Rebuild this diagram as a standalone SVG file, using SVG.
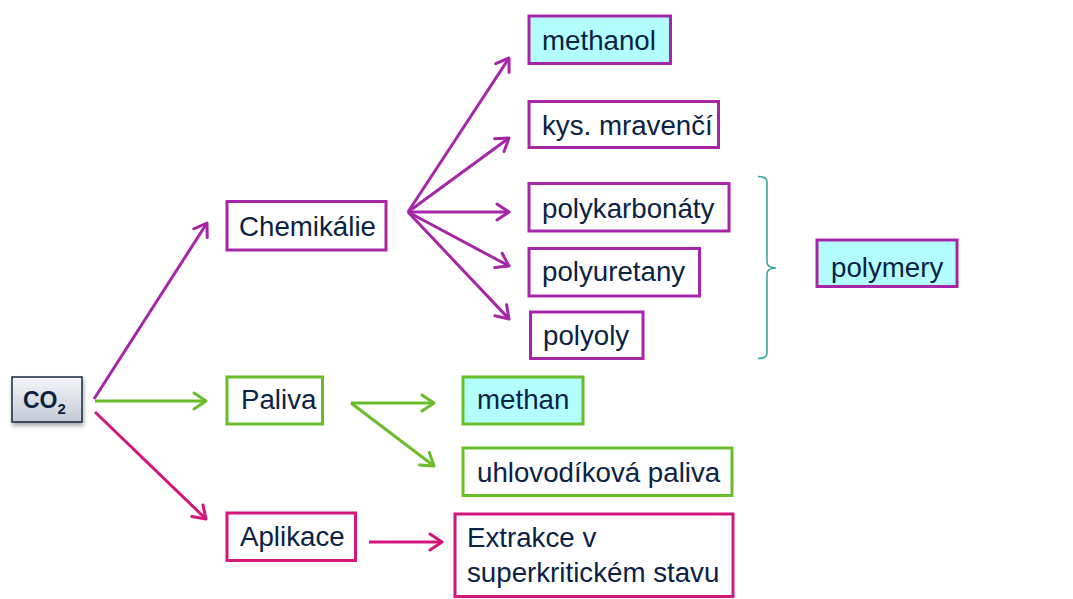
<svg xmlns="http://www.w3.org/2000/svg" width="1073" height="599" viewBox="0 0 1073 599">
<style>
text{font-family:"Liberation Sans",Arial,sans-serif;font-size:27.7px;fill:#0b2245}
.box{fill:#fff;stroke-width:3}
.cy{fill:#b3ffff}
.mg{stroke:#a626a8}
.gr{stroke:#6abd2a}
.pk{stroke:#d4157a}
.ln{fill:none;stroke-width:3}
</style>
<defs>
<linearGradient id="g" x1="0" y1="0" x2="0" y2="1">
<stop offset="0" stop-color="#f3f5f8"/>
<stop offset="1" stop-color="#c5cad4"/>
</linearGradient>
<filter id="sh" x="-20%" y="-20%" width="150%" height="160%">
<feDropShadow dx="1" dy="3" stdDeviation="2" flood-color="#000" flood-opacity="0.35"/>
</filter>
<marker id="am" viewBox="-16 -10 20 20" refX="0" refY="0" markerWidth="20" markerHeight="20" markerUnits="userSpaceOnUse" orient="auto">
<path d="M-12,-8 L0,0 L-12,8" fill="none" stroke="#a626a8" stroke-width="3" stroke-linecap="round" stroke-linejoin="round"/>
</marker>
<marker id="ag" viewBox="-16 -10 20 20" refX="0" refY="0" markerWidth="20" markerHeight="20" markerUnits="userSpaceOnUse" orient="auto">
<path d="M-12,-8 L0,0 L-12,8" fill="none" stroke="#6abd2a" stroke-width="3" stroke-linecap="round" stroke-linejoin="round"/>
</marker>
<marker id="ap" viewBox="-16 -10 20 20" refX="0" refY="0" markerWidth="20" markerHeight="20" markerUnits="userSpaceOnUse" orient="auto">
<path d="M-12,-8 L0,0 L-12,8" fill="none" stroke="#d4157a" stroke-width="3" stroke-linecap="round" stroke-linejoin="round"/>
</marker>
</defs>
<rect width="1073" height="599" fill="#fff"/>

<g id="connectors">
<line class="ln mg" x1="94" y1="399" x2="207" y2="223" marker-end="url(#am)"/>
<line class="ln gr" x1="95" y1="401" x2="206" y2="401" marker-end="url(#ag)"/>
<line class="ln pk" x1="95" y1="412" x2="206" y2="519" marker-end="url(#ap)"/>
<line class="ln mg" x1="408" y1="212" x2="509" y2="58" marker-end="url(#am)"/>
<line class="ln mg" x1="408" y1="212" x2="509" y2="138" marker-end="url(#am)"/>
<line class="ln mg" x1="408" y1="212" x2="509" y2="212" marker-end="url(#am)"/>
<line class="ln mg" x1="408" y1="212" x2="509" y2="266" marker-end="url(#am)"/>
<line class="ln mg" x1="408" y1="212" x2="509" y2="319" marker-end="url(#am)"/>
<line class="ln gr" x1="351" y1="403" x2="434" y2="403" marker-end="url(#ag)"/>
<line class="ln gr" x1="351" y1="403" x2="434" y2="466" marker-end="url(#ag)"/>
<line class="ln pk" x1="369" y1="542" x2="442" y2="542" marker-end="url(#ap)"/>
<path d="M758,176.5 Q767,176.5 767,182 L767,262 Q767,268 776,268 Q767,268 767,274 L767,353 Q767,358.5 758,358.5" fill="none" stroke="#3aa5a0" stroke-width="1.6"/>
</g>

<g id="co2">
<rect x="12" y="377" width="70" height="45" fill="url(#g)" stroke="#1a2a44" stroke-width="1.5" filter="url(#sh)"/>
<text x="23" y="408" style="font-weight:bold;font-size:23px">CO<tspan dy="6" style="font-size:15px">2</tspan></text>
</g>

<g id="chemikalie">
<rect class="box mg" x="227" y="201.5" width="159" height="48.5"/>
<text x="239" y="236">Chemikálie</text>
</g>
<g id="paliva">
<rect class="box gr" x="227" y="377" width="95.5" height="47"/>
<text x="241" y="409">Paliva</text>
</g>
<g id="aplikace">
<rect class="box pk" x="227" y="513" width="128.5" height="47.5"/>
<text x="240" y="546">Aplikace</text>
</g>

<g id="methanol">
<rect class="box mg cy" x="529" y="16" width="141.5" height="47.5"/>
<text x="542" y="50">methanol</text>
</g>
<g id="kys">
<rect class="box mg" x="529" y="101.5" width="189.5" height="46"/>
<text x="542" y="135">kys. mravenčí</text>
</g>
<g id="polykarbonaty">
<rect class="box mg" x="529" y="183.5" width="200" height="47.5"/>
<text x="542" y="218">polykarbonáty</text>
</g>
<g id="polyuretany">
<rect class="box mg" x="529" y="248.5" width="170.5" height="47.5"/>
<text x="542" y="281">polyuretany</text>
</g>
<g id="polyoly">
<rect class="box mg" x="530.5" y="312" width="112.5" height="46.5"/>
<text x="543" y="345">polyoly</text>
</g>
<g id="polymery">
<rect class="box mg cy" x="817" y="240" width="140" height="46.5"/>
<text x="831" y="277">polymery</text>
</g>

<g id="methan">
<rect class="box gr cy" x="463" y="377" width="120" height="47"/>
<text x="477" y="409">methan</text>
</g>
<g id="uhlovodikova">
<rect class="box gr" x="463" y="448" width="269" height="47.5"/>
<text x="477" y="482">uhlovodíková paliva</text>
</g>
<g id="extrakce">
<rect class="box pk" x="455" y="514" width="278" height="82.5"/>
<text x="467" y="547">Extrakce v</text>
<text x="467" y="582">superkritickém stavu</text>
</g>
</svg>
